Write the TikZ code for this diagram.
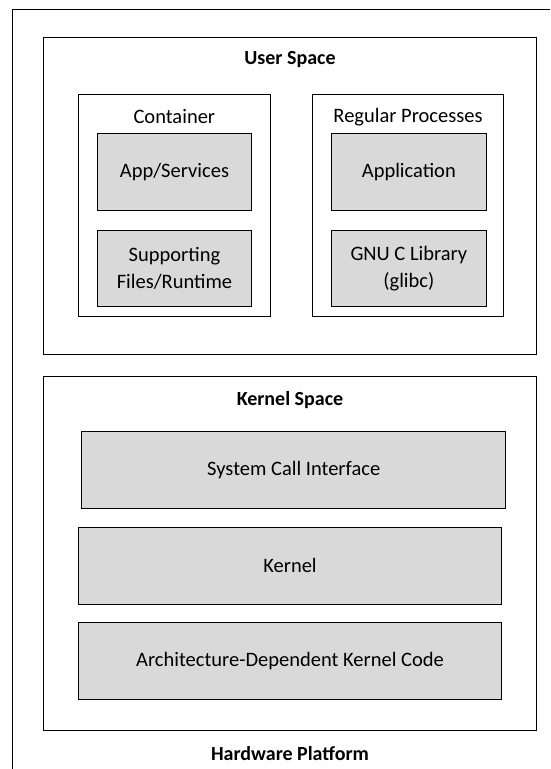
\documentclass[tikz,border=0pt]{standalone}
\usepackage{fontspec}
\setmainfont{Carlito}
\definecolor{boxgray}{HTML}{D9D9D9}
\begin{document}
\begin{tikzpicture}[x=1pt,y=-1pt,
  frame/.style={draw=black, line width=0.9pt, inner sep=0pt},
  block/.style={draw=black, line width=0.9pt, fill=boxgray, inner sep=0pt,
    align=center, font=\fontsize{20.5}{27}\selectfont},
  title/.style={inner sep=0pt, font=\bfseries\fontsize{20}{24}\selectfont},
  caption/.style={inner sep=0pt, font=\fontsize{20.5}{24}\selectfont}]
\useasboundingbox (0,0) rectangle (550,769);

% open outer frame (platform)
\coordinate (ob) at (12.3,769);
\coordinate (or) at (550,9);
\draw[line width=0.9pt] (ob) |- (or);

% user space
\node[frame, minimum width=493.2, minimum height=317.2] (user) at (290.1,196.1) {};
\node[title] (usertitle) at (290,60) {User Space};

\node[frame, minimum width=192.7, minimum height=222] (cont) at (174.35,205.7) {};
\node[caption] (conttitle) at (174.35,116.7) {Container};
\node[block, minimum width=154.4, minimum height=76.7] (apps) at (174.5,171.65) {App/Services};
\node[block, minimum width=154.4, minimum height=76.7] (supp) at (174.5,268.35) {Supporting\\Files/Runtime};

\node[frame, minimum width=190.6, minimum height=222] (reg) at (408,205.7) {};
\node[caption] (regtitle) at (408,116.7) {Regular Processes};
\node[block, minimum width=154.3, minimum height=76.7] (appl) at (408.85,171.65) {Application};
\node[block, minimum width=154.3, minimum height=76.7] (glibc) at (408.85,268.35) {GNU C Library\\(glibc)};

% kernel space
\node[frame, minimum width=493.4, minimum height=353.3] (kspace) at (290,553.35) {};
\node[title] (ktitle) at (290,400) {Kernel Space};
\node[block, minimum width=424, minimum height=76.6] (sci) at (293.7,470) {System Call Interface};
\node[block, minimum width=423.4, minimum height=76.7] (kern) at (290,565.65) {Kernel};
\node[block, minimum width=423.4, minimum height=76.6] (arch) at (290,661) {Architecture-Dependent Kernel Code};

\node[title] (hw) at (290,754) {Hardware Platform};
\end{tikzpicture}
\end{document}
